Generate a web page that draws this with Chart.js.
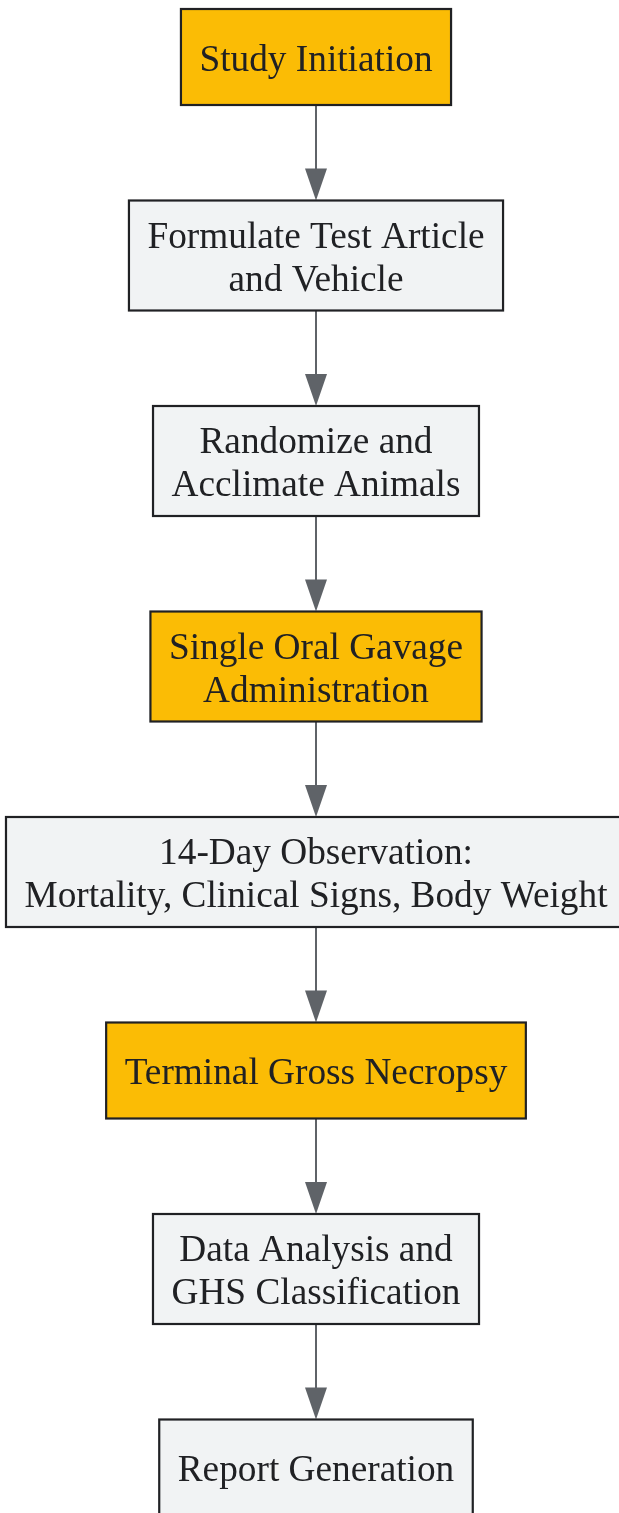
<!DOCTYPE html>
<html>
<head>
<meta charset="utf-8">
<script src="https://cdn.jsdelivr.net/npm/chart.js@4/dist/chart.umd.min.js"></script>
<style>
  html, body { margin: 0; padding: 0; background: #ffffff; }
  #wrap { width: 619px; height: 1513px; position: relative; }
</style>
</head>
<body>
<div id="wrap"><canvas id="flow"></canvas></div>
<script>
/* Acute oral toxicity study workflow — drawn as a vertical flowchart */

// Step labels (one entry per node, lines split with \n)
const steps = [
  'Study Initiation',
  'Formulate Test Article\nand Vehicle',
  'Randomize and\nAcclimate Animals',
  'Single Oral Gavage\nAdministration',
  '14-Day Observation:\nMortality, Clinical Signs, Body Weight',
  'Terminal Gross Necropsy',
  'Data Analysis and\nGHS Classification',
  'Report Generation',
];
// Which steps are key milestones (highlighted)
const milestones = [true, false, false, true, false, true, false, false];
// Edges: from step index -> to step index
const edgeFrom = [0, 1, 2, 3, 4, 5, 6];
const edgeTo   = [1, 2, 3, 4, 5, 6, 7];

const W = 619, H = 1513;
const FONT = '37.3px "Liberation Serif", "Times New Roman", serif';
const LINE_H = 43;
const PAD_X = 18.5;
const GAP = 95.5;
const COLORS = {
  milestone: '#fbbc05',
  step: '#f1f3f4',
  border: '#202124',
  text: '#202124',
  arrow: '#5f6368',
};

// stack nodes top to bottom: single-line boxes are 96 tall, others grow with lines
function layout() {
  let top = 9;
  return steps.map((s) => {
    const lines = s.split('\n');
    const h = Math.max(96, lines.length * LINE_H + 24);
    const c = top + h / 2;
    top += h + GAP;
    return { lines, h, y: c };
  });
}
const nodes = layout();

const flowPlugin = {
  id: 'flow',
  afterDatasetsDraw(chart) {
    const { ctx, scales: { x, y } } = chart;
    const k = y.getPixelForValue(1) - y.getPixelForValue(0);
    ctx.save();
    ctx.font = FONT;
    const boxes = nodes.map((n) => {
      const cx = x.getPixelForValue(316);
      const cy = y.getPixelForValue(n.y);
      const tw = Math.max(...n.lines.map((l) => ctx.measureText(l).width));
      const w = tw + PAD_X * 2;
      const h = n.h * k;
      return { cx, cy, w, h, top: cy - h / 2, bottom: cy + h / 2 };
    });

    // arrows
    ctx.strokeStyle = COLORS.arrow;
    ctx.fillStyle = COLORS.arrow;
    ctx.lineWidth = 2;
    edgeFrom.forEach((f, i) => {
      const a = boxes[f], b = boxes[edgeTo[i]];
      const tip = b.top;
      ctx.beginPath();
      ctx.moveTo(a.cx, a.bottom);
      ctx.lineTo(a.cx, tip - 30);
      ctx.stroke();
      ctx.beginPath();
      ctx.moveTo(b.cx - 11, tip - 32);
      ctx.lineTo(b.cx + 11, tip - 32);
      ctx.lineTo(b.cx, tip);
      ctx.closePath();
      ctx.fill();
    });

    // boxes + labels
    boxes.forEach((b, i) => {
      ctx.fillStyle = milestones[i] ? COLORS.milestone : COLORS.step;
      ctx.fillRect(b.cx - b.w / 2, b.top, b.w, b.h);
      ctx.strokeStyle = COLORS.border;
      ctx.lineWidth = 2.2;
      ctx.strokeRect(b.cx - b.w / 2, b.top, b.w, b.h);
      ctx.fillStyle = COLORS.text;
      ctx.textAlign = 'center';
      ctx.textBaseline = 'middle';
      const lines = nodes[i].lines;
      lines.forEach((l, j) => {
        const ly = b.cy + (j - (lines.length - 1) / 2) * LINE_H + 4;
        ctx.fillText(l, b.cx, ly);
      });
    });
    ctx.restore();
  },
};

new Chart(document.getElementById('flow').getContext('2d'), {
  type: 'scatter',
  data: {
    labels: steps,
    datasets: [{
      data: nodes.map((n) => ({ x: 316, y: n.y })),
      pointRadius: 0,
      pointHoverRadius: 0,
    }],
  },
  options: {
    responsive: true,
    maintainAspectRatio: false,
    animation: false,
    layout: { padding: 0 },
    plugins: { legend: { display: false }, tooltip: { enabled: false } },
    scales: {
      x: { type: 'linear', min: 0, max: W, display: false },
      y: { type: 'linear', min: 0, max: H, reverse: true, display: false },
    },
  },
  plugins: [flowPlugin],
});
</script>
</body>
</html>
